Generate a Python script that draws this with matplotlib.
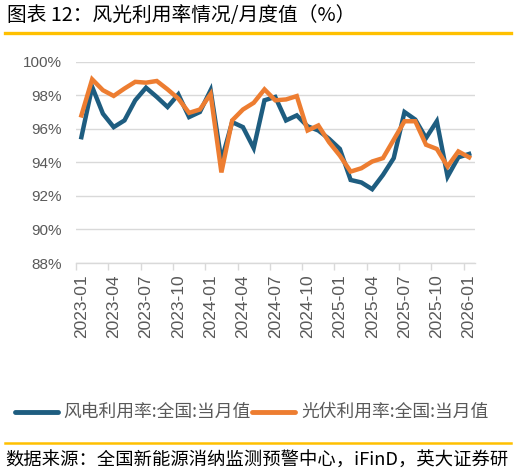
import matplotlib
matplotlib.use("Agg")
import matplotlib.pyplot as plt
from matplotlib.lines import Line2D

plt.rcParams['font.family'] = ['Noto Sans CJK SC', 'DejaVu Sans']

months = [f"{y}-{m:02d}" for y in (2023, 2024, 2025) for m in range(1, 13)] + ["2026-01"]
wind = [95.5, 98.5, 96.9, 96.1, 96.5, 97.7, 98.45, 97.9, 97.3, 98.05, 96.7, 97.0,
        98.3, 94.1, 96.4, 96.1, 94.85, 97.7, 97.9, 96.5, 96.8, 96.15, 95.9, 95.4,
        94.8, 92.95, 92.8, 92.4, 93.25, 94.25, 97.0, 96.55, 95.45, 96.45, 93.15, 94.3, 94.5]
solar = [96.8, 98.95, 98.3, 97.96, 98.4, 98.8, 98.75, 98.85, 98.35, 97.8, 96.95, 97.15,
         98.07, 93.4, 96.5, 97.15, 97.55, 98.35, 97.7, 97.75, 97.95, 95.9, 96.2, 95.2,
         94.4, 93.45, 93.65, 94.05, 94.25, 95.35, 96.45, 96.45, 95.05, 94.8, 93.75, 94.65, 94.3]
yticks = [88, 90, 92, 94, 96, 98, 100]
wind_label = "风电利用率:全国:当月值"
solar_label = "光伏利用率:全国:当月值"
title = "图表 12：风光利用率情况/月度值（%）"
source = "数据来源：全国新能源消纳监测预警中心，iFinD，英大证券研"

W, H = 517, 475
fig = plt.figure(figsize=(W / 100, H / 100), dpi=100)

blue = "#1E5D80"
orange = "#ED7D31"
gold = "#FFC000"
grey = "#595959"

ax = fig.add_axes([76 / W, 1 - 263 / H, (474.5 - 76) / W, (263 - 61.7) / H])
x = list(range(len(months)))
ax.plot(x, wind, color=blue, lw=3.2, solid_joinstyle='miter', zorder=3)
ax.plot(x, solar, color=orange, lw=3.2, solid_joinstyle='miter', zorder=4)

ax.set_xlim(-0.5, len(months) - 0.5)
ax.set_ylim(88, 100)
ax.set_yticks(yticks)
ax.set_yticklabels([f"{v}%" for v in yticks], family='Liberation Sans', fontsize=11, color=grey)
ax.grid(axis='y', color="#D9D9D9", lw=1)
ax.set_axisbelow(True)
for s in ['top', 'right', 'left']:
    ax.spines[s].set_visible(False)
ax.spines['bottom'].set_color("#D9D9D9")
ax.spines['bottom'].set_linewidth(1)
ax.tick_params(axis='y', length=0, pad=10)

ax.set_xticks(x[::3])
ax.set_xticklabels(months[::3], rotation=90, family='Liberation Sans', fontsize=12.5, color=grey)
ax.set_xticks([i - 0.5 for i in x[::3]], minor=True)
ax.tick_params(axis='x', which='major', length=0, pad=8)
ax.tick_params(axis='x', which='minor', length=5, color="#D9D9D9", width=1)

# title & decorative lines
fig.text(7 / W, 1 - 16 / H, title, fontsize=14.2, color='black', va='center', ha='left', weight='medium')
fig.add_artist(Line2D([5 / W, 511 / W], [1 - 32.5 / H, 1 - 32.5 / H], color=gold, lw=2.4))
fig.add_artist(Line2D([5 / W, 511 / W], [1 - 443 / H, 1 - 443 / H], color=gold, lw=1.8))

# legend
ly = 1 - 411.5 / H
fig.add_artist(Line2D([15 / W, 58 / W], [ly, ly], color=blue, lw=3.5, solid_capstyle='round'))
fig.text(63 / W, ly, wind_label, fontsize=12.8, color=grey, va='center', ha='left')
fig.add_artist(Line2D([252 / W, 295 / W], [ly, ly], color=orange, lw=3.5, solid_capstyle='round'))
fig.text(301 / W, ly, solar_label, fontsize=12.8, color=grey, va='center', ha='left')

fig.text(5 / W, 1 - 461 / H, source, fontsize=13.2, color='black', va='center', ha='left')

fig.savefig("out.png", dpi=100)
